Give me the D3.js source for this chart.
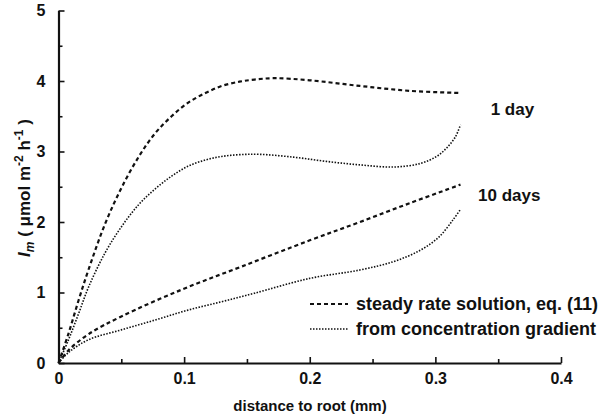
<!DOCTYPE html>
<html>
<head>
<meta charset="utf-8">
<script src="https://cdn.jsdelivr.net/npm/d3@7"></script>
<style>
  body { margin: 0; background: #fff; }
  svg { font-family: "Liberation Sans", Arial, sans-serif; font-weight: bold; }
</style>
</head>
<body>
<div id="chart"></div>
<script>
// values (distance in mm, rate in umol m-2 h-1)
const day1SteadyX = [0, 0.008, 0.016, 0.024, 0.037, 0.05, 0.064, 0.077, 0.09, 0.103, 0.117, 0.13, 0.144, 0.156, 0.172, 0.2, 0.24, 0.28, 0.32];
const day1SteadyY = [0, 0.42, 0.89, 1.33, 1.97, 2.48, 2.93, 3.26, 3.50, 3.69, 3.83, 3.93, 3.99, 4.02, 4.04, 4.01, 3.93, 3.86, 3.83];

const day1GradX = [0, 0.008, 0.016, 0.024, 0.037, 0.05, 0.064, 0.077, 0.09, 0.103, 0.117, 0.13, 0.144, 0.16, 0.187, 0.213, 0.24, 0.267, 0.288, 0.301, 0.309, 0.316, 0.32];
const day1GradY = [0, 0.33, 0.70, 1.08, 1.56, 1.93, 2.25, 2.47, 2.65, 2.79, 2.88, 2.93, 2.955, 2.96, 2.92, 2.86, 2.81, 2.78, 2.83, 2.93, 3.05, 3.21, 3.38];

const day10SteadyX = [0, 0.008, 0.024, 0.05, 0.098, 0.146, 0.2, 0.24, 0.28, 0.32];
const day10SteadyY = [0, 0.18, 0.41, 0.66, 1.04, 1.37, 1.74, 2.00, 2.27, 2.53];

const day10GradX = [0, 0.008, 0.024, 0.05, 0.077, 0.103, 0.13, 0.156, 0.2, 0.24, 0.267, 0.288, 0.303, 0.314, 0.32];
const day10GradY = [0, 0.15, 0.33, 0.47, 0.61, 0.75, 0.87, 0.99, 1.20, 1.32, 1.44, 1.60, 1.79, 2.03, 2.18];

const xTicks = [0, 0.1, 0.2, 0.3, 0.4];
const xMinor = [0.05, 0.15, 0.25, 0.35];
const yTicks = [0, 1, 2, 3, 4, 5];
const yMinor = [0.5, 1.5, 2.5, 3.5, 4.5];

const legendLabels = ["steady rate solution, eq. (11)", "from concentration gradient"];
const curveLabels = ["1 day", "10 days"];
const curveLabelPos = [[0.344, 3.52], [0.334, 2.3]];

const width = 604, height = 417;

const svg = d3.select("#chart").append("svg")
  .attr("width", width)
  .attr("height", height);

const x = d3.scaleLinear().domain([0, 0.4]).range([58.5, 561]);
const y = d3.scaleLinear().domain([0, 5]).range([363, 10.5]);

const zip = (xs, ys) => xs.map((v, i) => [v, ys[i]]);
const series = [
  { pts: zip(day1SteadyX, day1SteadyY), kind: "dash" },
  { pts: zip(day1GradX, day1GradY), kind: "dot" },
  { pts: zip(day10SteadyX, day10SteadyY), kind: "dash" },
  { pts: zip(day10GradX, day10GradY), kind: "dot" }
];

const styles = {
  dash: { width: 2.2, dash: "4,3" },
  dot: { width: 1.6, dash: "1.5,1.5" }
};

const line = d3.line()
  .x(d => x(d[0]))
  .y(d => y(d[1]))
  .curve(d3.curveCatmullRom.alpha(0.5));

svg.append("g")
  .selectAll("path")
  .data(series)
  .join("path")
  .attr("fill", "none")
  .attr("stroke", "#111")
  .attr("stroke-width", d => styles[d.kind].width)
  .attr("stroke-dasharray", d => styles[d.kind].dash)
  .attr("d", d => line(d.pts));

// axes, ticks pointing inward
svg.append("g")
  .attr("transform", `translate(0,${y(0)})`)
  .call(d3.axisBottom(x).tickValues(xTicks).tickFormat(d => d === 0 ? "0" : d3.format(".1f")(d))
    .tickSizeInner(-6).tickSizeOuter(0).tickPadding(10));
svg.append("g")
  .attr("transform", `translate(0,${y(0)})`)
  .call(d3.axisBottom(x).tickValues(xMinor).tickFormat("").tickSizeInner(-4).tickSizeOuter(0))
  .select(".domain").remove();

svg.append("g")
  .attr("transform", `translate(${x(0)},0)`)
  .call(d3.axisLeft(y).tickValues(yTicks).tickFormat(d3.format("d"))
    .tickSizeInner(-6).tickSizeOuter(0).tickPadding(13));
svg.append("g")
  .attr("transform", `translate(${x(0)},0)`)
  .call(d3.axisLeft(y).tickValues(yMinor).tickFormat("").tickSizeInner(-4).tickSizeOuter(0))
  .select(".domain").remove();

svg.selectAll(".domain").attr("stroke", "#111").attr("stroke-width", 2.2);
svg.selectAll(".tick line").attr("stroke", "#111").attr("stroke-width", 1.6);
svg.selectAll(".tick text")
  .attr("fill", "#111")
  .style("font-size", "16px")
  .style("font-weight", "bold")
  .style("font-family", "'Liberation Sans', Arial, sans-serif");

// axis titles
svg.append("text")
  .attr("x", 310)
  .attr("y", 411)
  .attr("text-anchor", "middle")
  .style("font-size", "15px")
  .attr("fill", "#111")
  .text("distance to root (mm)");

const yTitle = svg.append("text")
  .attr("transform", "translate(30,188) rotate(-90)")
  .attr("text-anchor", "middle")
  .style("font-size", "17px")
  .attr("fill", "#111");
yTitle.append("tspan").style("font-style", "italic").text("I");
yTitle.append("tspan").style("font-style", "italic").style("font-size", "12px").attr("dy", 4).text("m");
yTitle.append("tspan").attr("dy", -4).text(" ( \u03bcmol m");
yTitle.append("tspan").style("font-size", "12px").attr("dy", -7).text("-2");
yTitle.append("tspan").attr("dy", 7).text(" h");
yTitle.append("tspan").style("font-size", "12px").attr("dy", -7).text("-1");
yTitle.append("tspan").attr("dy", 7).text(" )");

// curve labels
svg.append("g")
  .selectAll("text")
  .data(curveLabels)
  .join("text")
  .attr("x", (d, i) => x(curveLabelPos[i][0]))
  .attr("y", (d, i) => y(curveLabelPos[i][1]))
  .style("font-size", "17px")
  .attr("fill", "#111")
  .text(d => d);

// legend
const legend = svg.append("g").attr("transform", "translate(310,304)");
legend.selectAll("g")
  .data(legendLabels)
  .join("g")
  .attr("transform", (d, i) => `translate(0,${i * 25})`)
  .each(function (d, i) {
    const g = d3.select(this);
    const st = styles[i === 0 ? "dash" : "dot"];
    g.append("line")
      .attr("x1", 0).attr("x2", 38).attr("y1", 0).attr("y2", 0)
      .attr("stroke", "#111")
      .attr("stroke-width", st.width * 0.8)
      .attr("stroke-dasharray", st.dash);
    g.append("text")
      .attr("x", 46)
      .attr("y", 6)
      .style("font-size", "18px")
      .attr("fill", "#111")
      .text(d);
  });
</script>
</body>
</html>
